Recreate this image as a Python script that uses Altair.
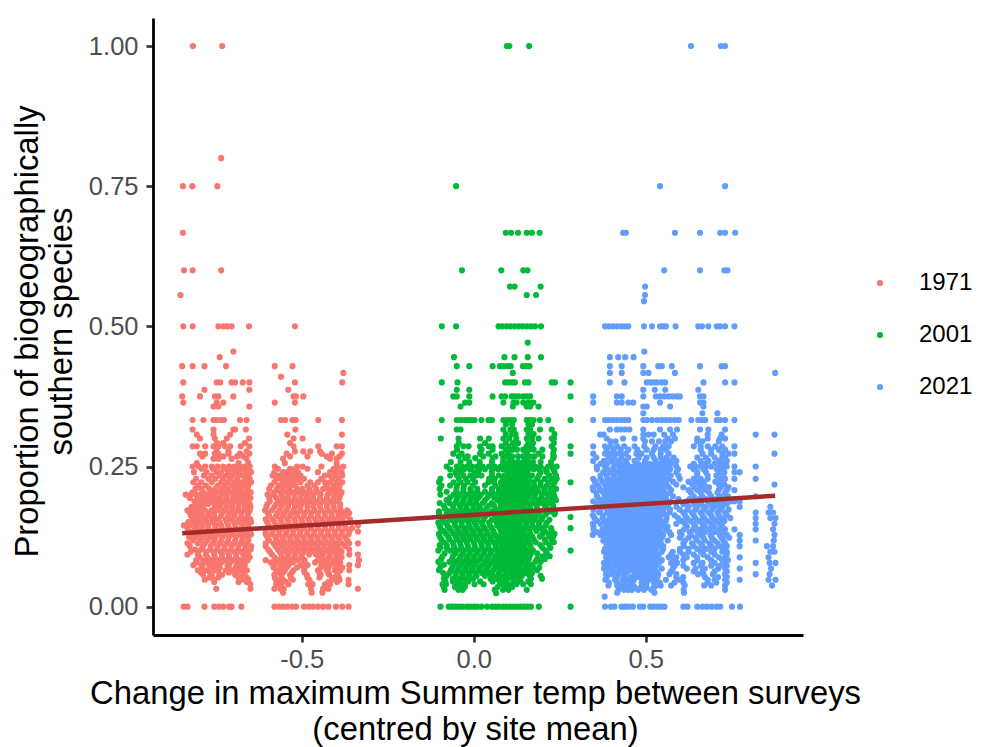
import altair as alt
import pandas as pd

# rows: (proportion in thousandths, [change in temp in thousandths, ...])
rows_1971 = [
 (1000,[-799,-715]),(800,[-718]),(750,[-828,-801,-729]),(667,[-828]),(600,[-825,-800,-718]),(556,[-835]),
 (500,[-827,-800,-726,-712,-700,-688,-638,-506]),(455,[-683]),(445,[-722]),
 (429,[-830,-800,-766,-704,-564,-513]),(417,[-367]),(410,[-546]),
 (400,[-827,-731,-721,-688,-678,-656,-637,-506,-370]),(387,[-766,-637,-525]),
 (375,[-830,-779,-736,-726,-683,-510,-503,-482]),(364,[-827,-731,-712,-564,-506]),(357,[-740,-726,-637]),
 (333,[-800,-769,-740,-731,-719,-710,-664,-645,-546,-534,-513,-504,-439,-371]),
 (316,[-800,-740,-683,-678,-647,-505]),(307,[-788,-740,-692,-528,-371]),
 (300,[-779,-736,-702,-638,-510,-484]),
 (286,[-800,-788,-764,-740,-726,-707,-692,-662,-637,-510,-439,-386,-371]),
 (277,[-731,-697,-645,-506,-482,-462,-434]),
 (273,[-779,-764,-736,-726,-697,-664,-637,-530,-429,-400,-371]),
 (264,[-740,-726,-688,-645,-540,-405,-386]),(256,[-788,-668,-640,-535,-386]),
 (250,[-800,-783,-764,-745,-728,-712,-695,-680,-665,-650,-636,-564,-500,-484,-430,-386,-367]),
 (240,[-796,-760,-731,-718,-698,-680,-664,-645,-632,-565,-540,-527,-512,-497,-440,-405,-389,-372]),
 (228,[-790,-755,-735,-712,-692,-672,-650,-636,-560,-547,-530,-513,-498,-480,-430,-398,-380]),
 (216,[-785,-762,-728,-708,-688,-670,-655,-640,-575,-552,-535,-518,-505,-470,-450,-415,-395,-378]),
 (204,[-800,-770,-745,-725,-705,-690,-668,-648,-633,-565,-548,-530,-512,-495,-478,-460,-440,-405,-388,-372]),
 (200,[-820,-805,-790,-775,-760,-738,-718,-700,-680,-660,-640,-585,-570,-545,-525,-508,-488,-470,-452,-432,-412,-392,-375]),
 (188,[-795,-778,-762,-745,-728,-712,-694,-676,-658,-642,-578,-552,-535,-517,-498,-480,-462,-444,-424,-403,-385]),
 (178,[-803,-786,-770,-735,-720,-702,-686,-668,-650,-634,-588,-565,-545,-526,-506,-490,-470,-453,-434,-414,-395,-376]),
 (167,[-808,-790,-775,-755,-738,-715,-695,-678,-660,-640,-584,-556,-536,-515,-498,-478,-458,-440,-420,-402,-382,-368,-350]),
 (156,[-800,-782,-764,-745,-728,-705,-688,-668,-650,-634,-590,-570,-548,-528,-508,-488,-468,-448,-430,-410,-392,-372,-348]),
 (145,[-825,-808,-790,-772,-755,-735,-718,-698,-678,-658,-640,-582,-560,-540,-520,-500,-480,-460,-440,-420,-400,-380,-362,-325]),
 (134,[-800,-783,-764,-745,-726,-708,-688,-668,-650,-635,-590,-570,-550,-530,-510,-490,-470,-450,-430,-410,-390,-370,-350,-325]),
 (124,[-810,-792,-772,-752,-735,-715,-696,-676,-656,-640,-585,-562,-542,-522,-502,-482,-462,-442,-422,-402,-382,-362]),
 (113,[-815,-785,-765,-742,-722,-702,-682,-662,-645,-590,-568,-548,-530,-510,-490,-470,-450,-430,-410,-390,-372,-350,-325]),
 (102,[-793,-775,-750,-730,-710,-690,-670,-650,-633,-583,-555,-535,-516,-496,-476,-456,-436,-416,-396,-378,-350]),
 (93,[-815,-785,-762,-738,-716,-696,-675,-655,-640,-572,-545,-525,-505,-485,-465,-445,-425,-405,-385,-350,-325]),
 (83,[-790,-770,-748,-728,-706,-684,-664,-642,-590,-560,-538,-518,-498,-478,-440,-418,-396,-378,-322]),
 (74,[-798,-775,-752,-730,-700,-670,-650,-565,-545,-525,-490,-470,-425,-405,-385,-350,-325]),
 (65,[-785,-760,-735,-705,-688,-665,-644,-555,-535,-510,-480,-440,-415,-392,-375,-350]),
 (57,[-770,-745,-715,-678,-655,-565,-545,-520,-472,-432,-408,-385]),
 (48,[-765,-738,-660,-640,-560,-540,-512,-465,-400,-378,-352]),
 (40,[-634,-560,-545,-525,-468,-455,-420,-405,-352]),
 (32,[-732,-634,-565,-548,-538,-460,-425,-410,-325]),
 (25,[-540,-458,-427]),
 (0,[-826,-815,-766,-738,-725,-712,-695,-688,-660,-565,-552,-540,-528,-514,-503,-480,-466,-454,-440,-425,-410,-388,-370,-352]),
 # second pass over the crowded part of the cloud
 (292,[-730,-712,-650,-520]),(268,[-772,-712,-672,-655,-520,-470,-415,-378]),
 (246,[-774,-742,-706,-690,-672,-655,-640,-555,-520,-505,-470,-395,-378]),
 (234,[-768,-745,-722,-704,-686,-668,-656,-640,-570,-552,-538,-520,-505,-490,-420,-405,-388,-370]),
 (222,[-798,-775,-745,-718,-700,-680,-662,-645,-632,-565,-540,-524,-508,-490,-462,-440,-420,-405,-386,-370]),
 (210,[-792,-775,-752,-735,-716,-698,-678,-660,-642,-580,-558,-540,-522,-500,-485,-465,-445,-425,-410,-395,-380]),
 (194,[-808,-786,-768,-752,-735,-720,-703,-684,-667,-650,-634,-580,-560,-542,-526,-507,-490,-472,-454,-434,-414,-395,-378]),
 (183,[-790,-772,-755,-738,-721,-704,-686,-668,-650,-636,-585,-560,-542,-524,-506,-488,-470,-452,-434,-414,-396,-376]),
 (172,[-815,-798,-782,-765,-746,-728,-708,-688,-670,-652,-636,-592,-572,-550,-530,-510,-490,-470,-450,-430,-410,-392,-374,-356]),
 (162,[-805,-790,-772,-755,-738,-718,-698,-680,-660,-642,-580,-560,-540,-520,-500,-480,-460,-440,-420,-400,-380,-360]),
 (151,[-812,-795,-778,-760,-742,-722,-702,-682,-664,-646,-632,-586,-565,-545,-525,-505,-485,-465,-445,-425,-405,-385,-366,-345]),
 (140,[-815,-793,-775,-755,-735,-716,-696,-676,-658,-640,-580,-560,-540,-520,-500,-480,-460,-440,-420,-400,-380,-360,-342]),
 (129,[-802,-782,-762,-742,-724,-704,-684,-664,-645,-632,-590,-572,-552,-532,-512,-492,-472,-452,-432,-412,-392,-372,-352]),
 (118,[-800,-778,-758,-738,-718,-698,-678,-658,-640,-580,-558,-538,-518,-498,-478,-458,-438,-418,-398,-378,-356]),
 (108,[-808,-770,-748,-728,-708,-688,-668,-648,-632,-590,-562,-542,-522,-502,-482,-462,-442,-422,-402,-384,-362]),
 (98,[-805,-783,-760,-740,-720,-700,-680,-660,-642,-578,-550,-530,-510,-490,-470,-450,-430,-410,-390,-372]),
 (88,[-780,-757,-736,-716,-695,-675,-652,-636,-565,-545,-528,-508,-488,-432,-408,-388,-372]),
 (79,[-788,-762,-740,-718,-692,-674,-656,-575,-552,-532,-512,-480,-448,-430,-412,-392,-376]),
 (70,[-772,-745,-722,-696,-676,-655,-568,-548,-530,-500,-478,-432,-410,-388,-370]),
 (61,[-776,-750,-725,-696,-672,-650,-560,-540,-515,-478,-436,-410,-382]),
 (52,[-752,-726,-668,-645,-564,-545,-518,-470,-436,-395,-380]),
 (44,[-738,-668,-645,-555,-530,-462,-410,-385]),
]
rows_2001 = [
 (1000,[103,110,167]),(750,[-43]),(667,[100,115,135,160,175,197]),(600,[-26,87,150,162]),
 (571,[112,125,200]),(556,[160,187]),
 (500,[-84,-43,79,90,102,113,125,137,148,160,172,184,201]),(471,[163]),
 (445,[-49,96,125,163,201]),(429,[-41,-5,62,83,93,105,114,149,158,168]),(417,[120]),
 (400,[-84,-39,98,108,118,126,155,165,232,241,286]),(387,[-41,-5]),
 (375,[-51,-41,-5,62,88,98,117,126,136,150,160,170,286]),(364,[-17,-5,93,122,131,150,165,179]),
 (357,[-30,120,160,170,194]),
 (333,[-84,-41,-30,-20,-10,0,10,30,50,60,93,103,113,123,160,170,180,198,222,286]),
 (316,[-41,-30,93,113,123,160,170,198,232]),(300,[-87,-36,26,51,93,110,130,160,175,194,232,238]),
 (286,[-41,-22,-7,26,51,62,88,107,126,160,175,232,286]),
 (273,[-51,-27,26,51,88,107,160,194,236,286]),(265,[-17,12,62,93,112,160,236]),
 (250,[-70,-41,-27,-12,3,18,33,52,68,85,100,112,125,140,155,170,185,200,222,232,246]),
 (240,[-45,-28,10,20,60,105,118,130,145,162,200,218,240]),
 (228,[-88,-35,-15,5,52,68,92,108,122,138,152,168,190,212,232,246]),
 (222,[-92,-50,-30,-10,12,50,66,86,102,116,132,146,162,180,200,222,240,286]),
 (210,[-90,-42,-22,-2,18,60,80,96,112,126,142,156,172,190,210,228,244]),
 (200,[-88,-50,-32,-12,8,28,52,70,88,104,120,136,150,166,184,204,220,238]),
 (190,[-70,-42,-22,-2,16,40,76,94,110,126,142,158,176,194,214,232,244]),
 (180,[-78,-52,-32,-14,6,24,50,66,86,102,118,134,150,168,188,212,236]),
 (170,[-92,-62,-42,-22,-4,14,34,60,78,94,110,126,142,160,178,198,226,242]),
 (160,[-86,-55,-35,-16,2,20,40,68,86,102,118,134,150,168,186,206,286]),
 (150,[-94,-75,-48,-28,-8,10,30,52,74,92,108,124,140,158,176,196,218]),
 (140,[-88,-62,-40,-20,-2,18,38,60,82,98,114,130,146,164,184,202,230,286]),
 (130,[-92,-72,-50,-30,-12,8,28,48,68,88,104,120,136,152,170,205,222,240]),
 (120,[-85,-62,-40,-20,-2,18,38,58,78,96,112,128,144,162,180,212,232]),
 (110,[-90,-70,-50,-30,-10,10,30,50,70,88,104,120,136,152,170,200,225]),
 (100,[-94,-60,-40,-20,0,20,40,60,80,96,112,128,144,160,178,214,286]),
 (90,[-82,-52,-30,-10,10,30,50,70,88,104,120,136,152,168,205,226]),
 (80,[-94,-62,-42,-22,-2,18,40,60,80,96,112,128,144,162,185,200]),
 (70,[-88,-54,-34,-14,6,26,48,70,88,104,122,140,160,178,196]),
 (60,[-80,-62,-44,-26,-8,12,32,52,80,100,118,136,156,175]),
 (50,[-78,-52,-32,-14,6,-22,56,70,88,104,120,140,204,172]),
 (40,[-82,-72,-44,-30,-18,10,36,88,112,130,172,150]),
 (30,[-76,-36,-24,68,92,108,160]),
 (24,[72]),
 (0,[-88,-64,-54,-44,-34,-24,-12,-2,8,18,30,46,60,70,80,92,102,112,122,132,142,152,162,172,195,286]),
 # second pass over the crowded part of the cloud
 (325,[100,118,165,175]),(308,[100,118,128,165,180,240]),(292,[-35,40,100,120,135,165,178,238]),
 (280,[-40,30,62,100,118,132,150,165,180,205,238]),(268,[-35,-10,35,70,98,118,135,150,168,182,205,238]),
 (258,[-58,-30,-5,25,60,92,108,122,136,150,165,178,200,230]),
 (245,[-60,-35,-20,-3,25,40,62,78,92,108,122,136,150,165,180,195,215,236]),
 (234,[-60,-40,-22,-2,15,30,60,80,96,112,128,142,158,175,195,225,244]),
 (216,[-85,-60,-40,-20,5,40,70,88,104,120,136,150,165,182,200,218,236]),
 (205,[-70,-42,-22,0,18,40,60,80,96,112,128,144,160,176,194,212,232]),
 (195,[-60,-38,-18,2,22,48,66,86,102,118,134,148,164,182,202,224,240]),
 (185,[-90,-62,-45,-26,-6,14,34,60,84,100,116,130,146,162,180,200,226]),
 (175,[-75,-50,-30,-12,8,26,44,70,88,104,120,136,152,170,190,218,236]),
 (165,[-92,-70,-48,-28,-8,10,30,50,70,90,106,122,138,154,172,192,215,240]),
 (155,[-80,-62,-42,-22,-4,16,36,60,80,98,114,130,146,164,182,202,225]),
 (145,[-90,-68,-46,-26,-6,14,34,54,76,92,108,124,140,158,176,194,214]),
 (135,[-78,-56,-36,-16,4,24,44,64,86,102,118,134,150,168,188,212,232]),
 (125,[-90,-66,-44,-24,-4,14,34,54,74,92,108,124,140,158,176,198,226,236]),
 (115,[-78,-52,-32,-12,8,28,46,66,84,100,116,132,148,166,186,215,238]),
 (105,[-88,-70,-48,-28,-8,12,32,50,72,90,106,122,138,154,172,205,228]),
 (95,[-76,-46,-24,-4,16,36,56,76,92,108,124,140,156,172,190,218]),
 (85,[-86,-54,-34,-14,6,26,46,66,84,100,116,132,148,166,190,212]),
 (75,[-78,-48,-28,-8,12,34,54,74,92,108,124,140,156,172]),
 (65,[-92,-58,-38,-18,2,22,42,64,84,100,116,132,150,170,190]),
 (55,[-70,-44,-24,-4,16,40,64,80,96,112,128,146,168,200]),
 (45,[-74,-52,-36,-8,26,62,82,100,124,142,165]),
 (35,[-78,-46,-30,-18,76,100,118]),
]
rows_2021 = [
 (1000,[632,718,730]),(750,[543,730]),(667,[437,445,586,658,716,730,759]),(600,[555,658,728,737]),
 (571,[500]),(556,[500]),(545,[497]),
 (500,[385,396,408,420,432,442,452,497,520,543,552,560,588,653,664,682,706,716,730,757]),(455,[498]),
 (445,[399,423,443,467]),(429,[399,433,495,538,548,577,658,720,730]),(417,[399,433,495,510,586,874]),
 (400,[399,441,505,515,525,535,548,558,668,730,757]),(387,[495,528,558,653]),
 (375,[351,419,433,495,531,543,555,568,580,592,600,658,668]),(364,[351,419,433,452,466,543,658,668]),
 (357,[495,505,572,668]),(345,[495,665,708]),
 (333,[351,385,396,408,420,432,442,452,495,505,520,535,548,560,572,585,597,633,653,663,673,706,716,730,757]),
 (316,[399,419,430,442,455,495,543,572,592,658,682,730]),
 (307,[371,381,495,510,525,555,580,680,720,818,872]),
 (300,[390,437,470,495,565,586,650,680,715,730]),
 (286,[351,385,402,420,440,470,498,530,552,568,640,660,680,702,722,757]),
 (273,[351,385,400,415,430,445,475,490,520,545,568,665,690,722,740,757,872]),
 (260,[351,382,405,425,445,470,500,530,552,570,590,660,682,712,735]),
 (250,[361,385,410,425,440,455,470,490,505,520,535,550,565,590,630,645,660,675,690,715,735,757,818]),
 (240,[380,400,420,435,452,468,485,500,515,530,548,565,590,650,675,712,728,757,772]),
 (228,[351,372,392,408,424,440,456,472,488,504,520,536,552,568,600,640,660,680,712,730,757,818]),
 (218,[362,385,402,418,434,450,466,482,498,514,530,546,562,590,636,656,670,712,728,872]),
 (208,[351,372,392,408,424,440,456,472,488,504,520,536,552,575,625,650,675,712,735,757]),
 (197,[362,385,400,416,432,448,464,480,496,512,528,544,560,580,640,665,690,716,738,818]),
 (188,[351,375,392,408,424,440,456,472,488,504,520,536,552,572,620,650,680,700,722,745,757,772]),
 (178,[385,400,416,432,448,464,480,496,512,528,544,560,590,625,650,675,700,722,772,860]),
 (168,[368,392,408,424,440,456,472,488,504,520,536,552,570,610,635,660,682,708,730,818,855,868]),
 (158,[355,378,398,414,430,446,462,478,494,510,526,542,562,595,620,645,670,695,720,745,818,860,875]),
 (148,[350,372,392,408,424,440,456,472,488,504,520,536,552,590,615,640,665,690,715,818,872]),
 (138,[352,378,396,412,428,444,460,476,492,508,524,540,560,612,638,660,685,712,730,757,818,868]),
 (128,[350,372,390,408,424,440,456,472,488,504,520,536,552,575,605,632,660,688,715,735,772,872]),
 (118,[380,398,414,430,446,462,478,494,510,526,542,565,615,650,672,700,725,772,818,870]),
 (108,[392,408,424,440,456,472,488,504,520,536,552,612,640,665,690,715,735,772,850,868]),
 (98,[382,400,416,432,448,464,480,496,512,528,548,580,600,625,660,690,722,735,860,872]),
 (88,[388,405,420,438,454,470,486,502,518,534,568,590,620,650,680,712,730,772,855]),
 (78,[382,398,422,440,458,474,490,506,522,540,575,592,640,665,700,730,818,858,875]),
 (68,[382,400,426,444,460,478,494,510,526,548,580,620,645,672,710,730,772,862]),
 (58,[388,405,424,442,472,488,506,524,538,570,590,652,668,695,730,818,858]),
 (48,[386,414,436,452,468,492,510,528,560,600,680,700,730,772,855,875]),
 (38,[395,420,432,456,466,500,532,545,575,614,670,690,730,865]),
 (30,[424,440,452,462,480,497,518,611,730]),(25,[420,527,612]),(18,[384]),
 (0,[385,402,412,432,442,452,465,485,495,515,525,535,545,556,610,622,650,665,678,692,706,716,750,773]),
 # second pass over the crowded part of the cloud
 (295,[400,415,500,520,540,558,575,650,665,712]),(280,[390,410,430,452,478,505,525,545,560,660,690,712,730]),
 (266,[360,395,412,432,452,482,505,525,545,562,582,650,675,700,722,730]),
 (255,[372,392,415,432,448,480,498,512,528,542,558,575,640,670,700,722]),
 (245,[362,392,408,428,445,462,478,494,510,524,540,556,572,595,640,668,706,722]),
 (234,[372,390,410,428,444,460,476,492,508,524,540,556,574,596,650,680,705,725]),
 (223,[356,378,396,412,428,444,460,476,492,508,524,540,556,580,625,648,668,702,722]),
 (213,[350,368,388,406,422,438,454,470,486,502,518,534,550,568,610,640,662,684,718,740]),
 (203,[360,380,396,412,428,444,460,476,492,508,524,540,556,572,632,660,684,708,730]),
 (192,[368,384,400,416,432,448,464,480,496,512,528,544,560,596,628,655,675,705,730]),
 (183,[360,378,392,408,424,440,456,472,488,504,520,536,552,568,610,640,662,690,712,735]),
 (173,[352,372,392,408,424,440,456,472,488,504,520,536,552,572,600,622,645,668,692,716,740]),
 (163,[350,380,400,416,432,448,464,480,496,512,528,544,560,585,615,640,665,690,712,735]),
 (153,[362,384,400,416,432,448,464,480,496,512,528,544,560,605,630,655,680,705,728]),
 (143,[352,388,404,420,436,452,468,484,500,516,532,548,565,620,645,672,698,722]),
 (133,[362,384,400,416,432,448,464,480,496,512,528,544,570,600,628,650,672,700,725]),
 (123,[384,404,420,436,452,468,484,500,516,532,548,600,625,645,668,692,720,742]),
 (113,[388,402,418,434,450,466,482,498,514,530,546,610,635,660,685,708,730]),
 (103,[385,404,420,436,452,468,484,500,516,532,552,600,625,650,675,700,725]),
 (93,[390,408,428,444,460,476,492,508,524,540,575,610,640,668,700,735]),
 (83,[392,412,430,448,464,480,496,512,528,548,582,610,650,690,722,738]),
 (73,[392,412,432,450,466,484,500,516,532,585,610,660,690,715,735]),
 (63,[390,412,434,450,466,484,500,516,532,575,640,665,700,735]),
 (53,[390,420,440,458,478,498,516,536,590,610,672,710,735]),
 (43,[396,420,440,460,490,505,525,542,585,610,680,705,735]),
 (34,[428,445,458,470,488,505,525]),
]

line_x = [-0.83, 0.874]
line_y = [0.131, 0.198]
series_names = ["1971", "2001", "2021"]
series_colors = ["#F8766D", "#00BA38", "#619CFF"]
x_ticks = [-0.5, 0.0, 0.5]
y_ticks = [0, 0.25, 0.5, 0.75, 1.0]
# the row values above were read against a provisional axis; these two bring them onto the printed ticks
x_gain, x_shift = 1.0116, -0.0081

records = []
for name, rows in zip(series_names, [rows_1971, rows_2001, rows_2021]):
    for yv, xs in rows:
        for xv in xs:
            records.append({"x": xv / 1000 * x_gain + x_shift, "y": yv / 1000, "Year": name})
df = pd.DataFrame(records)
line_df = pd.DataFrame({"x": [v * x_gain + x_shift for v in line_x], "y": line_y})

x_scale = alt.Scale(domain=[-0.9326, 0.9569], nice=False, zero=False)
y_scale = alt.Scale(domain=[-0.0505, 1.05], nice=False, zero=False)

points = alt.Chart(df).mark_circle(size=38, opacity=1).encode(
    x=alt.X("x:Q", scale=x_scale, axis=alt.Axis(
        values=x_ticks, grid=False,
        labelExpr="(datum.value<0?'-':'')+format(abs(datum.value),'.1f')",
        title=["Change in maximum Summer temp between surveys", "(centred by site mean)"],
        titleFontSize=32.8, titleColor="black", titleFontWeight="normal", titleFont="Liberation Sans",
        titleLineHeight=36, titlePadding=5, titleX=322,
        labelFontSize=25.5, labelColor="#4D4D4D", labelFont="Liberation Sans", labelPadding=5,
        domainColor="black", domainWidth=2.8, tickColor="#333333", tickWidth=2.7, tickSize=7)),
    y=alt.Y("y:Q", scale=y_scale, axis=alt.Axis(
        values=y_ticks, format=".2f", grid=False,
        title=["Proportion of biogeographically", "southern species"],
        titleFontSize=32.8, titleColor="black", titleFontWeight="normal", titleFont="Liberation Sans",
        titleLineHeight=34, titlePadding=10, titleY=313,
        labelFontSize=25.5, labelColor="#4D4D4D", labelFont="Liberation Sans", labelPadding=8,
        domainColor="black", domainWidth=2.8, tickColor="#333333", tickWidth=2.7, tickSize=7)),
    color=alt.Color("Year:N", scale=alt.Scale(domain=series_names, range=series_colors),
                    legend=alt.Legend(title=None, orient="none", legendX=715, legendY=253,
                                      labelFontSize=24, labelColor="black", labelFont="Liberation Sans",
                                      symbolType="circle", symbolSize=38, symbolOpacity=1,
                                      rowPadding=28, labelOffset=27, labelLimit=100)),
)

line = alt.Chart(line_df).mark_line(color="#A52A2A", strokeWidth=4.5).encode(
    x=alt.X("x:Q", scale=x_scale), y=alt.Y("y:Q", scale=y_scale))

chart = (points + line).properties(
    width=650, height=617,
    autosize=alt.AutoSizeParams(type="none"),
    padding={"left": 145, "top": 10, "right": 170, "bottom": 112},
).configure_view(stroke=None)

chart.save("out.html", embed_options={"renderer": "svg", "actions": False})
